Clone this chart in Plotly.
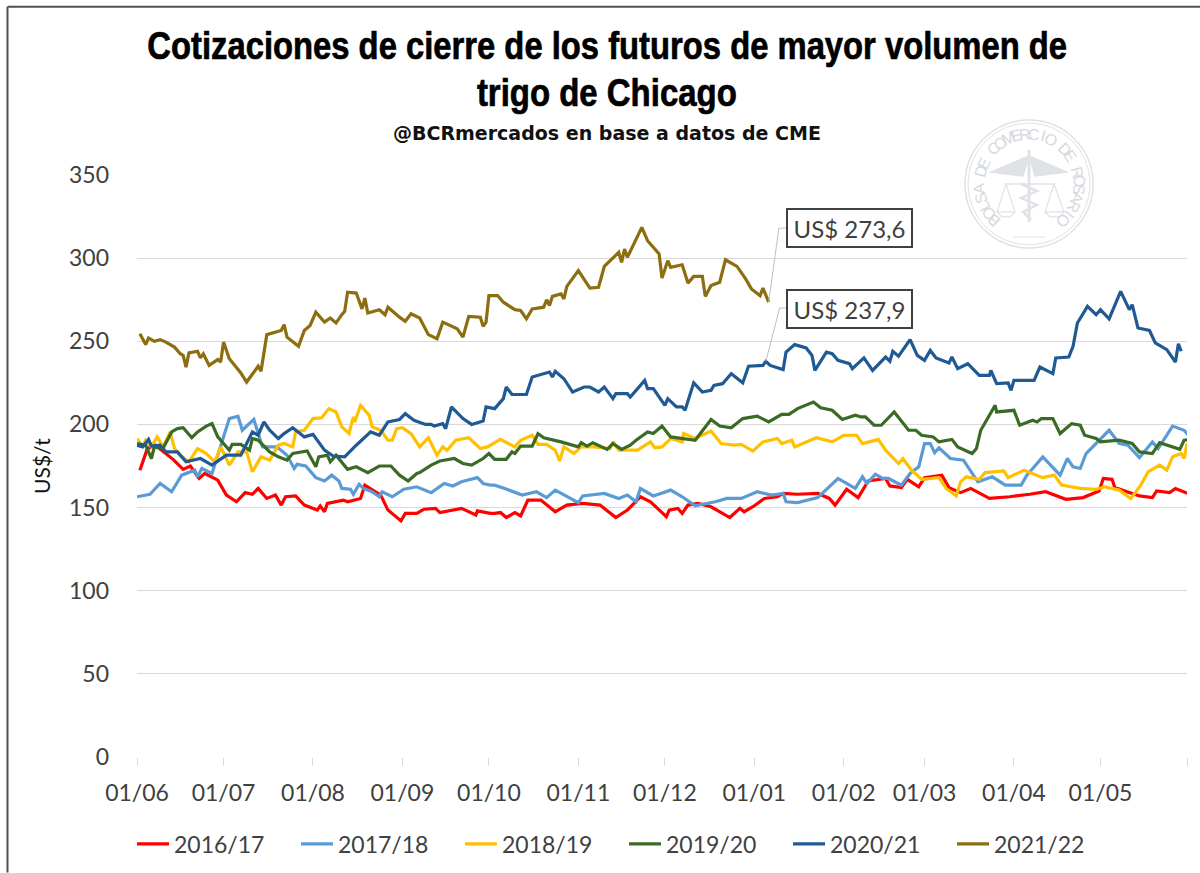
import math
from datetime import date, timedelta
import plotly.graph_objects as go

SEASONS = ["2016/17", "2017/18", "2018/19", "2019/20", "2020/21", "2021/22"]
COLORS = ["#FF0000", "#5B9BD5", "#FFC000", "#3A6B24", "#1F5A94", "#8C6D0F"]

days_1617 = [1,3.5,6,10,12.5,16,18.5,21.5,23.5,28,31,34.5,37.5,40,42,45,48,50,51.5,55,58,62.5,63.5,65,66,71.5,73,77.5,79,84.5,87,91.5,93,97,99.5,103.5,105,112.5,117.5,118,122.5,124,126,128,131,133,135.5,140,145,149,154.5,160.5,166,170,174.5,178,183.5,184.5,187.5,189,191,194.5,199,205.5,209,210.5,213.5,217.5,222,224,229,236,240,242,244,246,250,253.5,259.5,261,265,267,271,273,279,281.5,285.5,289,295.5,302.5,309.5,315,322,328,333.5,335,338,339,347.5,352,353.5,358,360,365]
vals_1617 = [172.5,185,188,182.5,179,173,175,167.5,170.5,166.5,157.5,153.5,159,158,161.5,155.5,157.5,151.5,156.5,157,151.5,148.5,151,147.5,152.5,154.5,153.5,155.5,163.5,157.5,148.5,142,146.5,146.5,149,149.5,147,149.5,145.5,148,146.5,146.5,147,144,147,145,154.5,154.5,147.5,151.5,152.5,151.5,144,148.5,156.5,153.5,144.5,148.5,149.5,146.5,151.5,152.5,150.5,144,149.5,147.5,150.5,155.5,156.5,158.5,158,158.5,155.5,151.5,156.5,161,156,166,167.5,163,162,167,162.5,168,169.5,162,159,161.5,155.5,156.5,158,159.5,155,156,160,167.5,167,162,157,156,160,159,161.5,158]

days_1718 = [0,4.5,8,12,15.5,20,21,22.5,26,29.5,32,35,36.5,40.5,43.5,48.5,52,54.5,55.5,58.5,62,65,67.5,70,71,74,75,77,78.5,81.5,84,85,88.5,92.5,97,102,106.5,109.5,112.5,118,120,122.5,124,127.5,133.5,138.5,142,145,153,154.5,159,162,167,170,173,174.5,179,185,189,193.5,200.5,204.5,209.5,215,220,224,225,229,236,241,243,249,251.5,253,256,258.5,260.5,265,268,271,273,275,276.5,278,282,286.5,291.5,296.5,301,306.5,308.5,314,320,322.5,324.5,327,329,337,340.5,343.5,347.5,352,354,359,363,365]
vals_1718 = [156.5,158,164.5,159.5,169.5,172.5,168.5,173.5,170.5,190.5,203.5,205,196.5,203,186.5,186.5,181.5,173.5,176,175,168,166,169.5,166,161.5,161,158,164,161.5,159.5,156.5,159.5,156.5,161,162.5,159,164.5,163,165.5,168,164.5,163.5,163.5,161.5,157.5,159.5,156,160.5,153,157,158,158.5,155.5,157.5,153.5,161.5,157,160.5,156.5,151,153.5,155.5,155.5,159.5,157.5,158.5,153.5,153,156,164.5,167.5,161.5,168.5,164.5,170,167.5,167.5,163.5,170.5,174.5,188.5,188.5,183,186,179.5,178.5,165.5,168.5,163.5,163.5,169.5,180.5,169.5,179.5,174.5,173.5,182.5,196.5,188.5,187.5,180,189.5,185.5,199,196.5,192.5]

days_1819 = [0,2,3,5,7,9,11.5,13,15,18,21,24,27,29,32,35,38,40,43,46,49,51,54,55,58,61,64,66.5,69,71,73.5,75,75.5,77.5,80.5,81.5,84.5,87,88.5,90,92,95,98,101,104,106,107.5,110.5,115,119,121.5,126,131,133,137,139,142,145,146.5,148,151.5,154,158.5,164,165,167,173.5,178,179.5,182,185,189,189.5,193.5,199,202.5,207,209.5,213.5,217,222,223.5,227,228,235.5,241,245,249.5,251.5,257,259.5,264,265.5,268.5,272,278,280.5,284,285.5,287.5,292,294,300.5,302,307.5,314,318,320.5,327,332.5,335.5,340.5,344.5,348,350.5,354.5,357,359,362,363,364,365]
vals_1819 = [191.5,186.5,190.5,186.5,192.5,186.5,195.5,185.5,181.5,177.5,185.5,182.5,177.5,186.5,175.5,183.5,183.5,171.5,180.5,178.5,187.5,188.5,186.5,195.5,196.5,203.5,204,209.5,207.5,198.5,194.5,204.5,201.5,211.5,205.5,198.5,196.5,190.5,190.5,197.5,198,194.5,186.5,192,181.5,186.5,184.5,190.5,192,185.5,186.5,191,186.5,190.5,193.5,188,188,184.5,178,186.5,182.5,186.5,186.5,185.5,189.5,184.5,184.5,189.5,186,186.5,191.5,189.5,194.5,191.5,196,188.5,187.5,188,184,189.5,191.5,188.5,190.5,186.5,192,189.5,193.5,193.5,188.5,191,184.5,176.5,179.5,172.5,167,168,161.5,157,165.5,168.5,167,171,172,168,172.5,168,169.5,163.5,161.5,161,162.5,160.5,155.5,163.5,171.5,175.5,172.5,180.5,182.5,179.5,188.5,184.5]

days_1920 = [0,3,5,6,9,12,14,16,19,21,24,26,28,32,33,36,39,40,42,46,49,52,54,59,62,63,66,67,69,73,76,80,84,88,91,94,97,98,102,105,110,113,116,120,122,124,128,130,131,133,137,139,141,147,153,154,156,158,163,165,168,171,173,177,179,182,185,193.5,199,202,206,210,215,219,223.5,226,229,234.5,237,241,244.5,249,251,252.5,255.5,258,262.5,267.5,270,272,276,278,282.5,284.5,289.5,291,292.5,297.5,298,304,306,310.5,312,313.5,317.5,320,324,327,328.5,332.5,334,340.5,345,347.5,352,354.5,361.5,363,365]
vals_1920 = [188.5,187.5,179.5,186.5,185.5,195.5,197.5,198,192,195.5,199,200.5,192.5,184.5,188,188,184.5,191.5,190.5,183.5,180.5,178.5,182.5,184,174.5,180.5,181.5,177.5,181.5,173,174.5,171,175,175,169.5,166,170.5,171,175.5,178,179.5,176.5,175.5,179.5,182.5,179,179,183.5,182.5,187,187,194.5,192,189.5,186.5,189,187,189,185,188.5,185,187.5,190.5,195.5,194.5,199,192.5,190.5,203,199,198,203.5,205,201.5,206,206,209.5,213.5,210,208.5,203,205.5,204.5,204.5,199.5,199.5,207.5,196.5,196.5,193.5,192.5,189.5,191,186.5,182.5,185.5,196.5,211.5,207.5,208.5,199.5,202.5,201.5,203.5,203.5,194.5,200.5,199.5,193.5,191.5,189.5,190.5,188.5,183.5,182.5,189,185,190.5,191]

days_2021 = [0,2,4,5,8,10,14,17,22,26,31,36,40,42,44,46,49,51,54,58,61,65,68,72,76,81,84,87,91,93,96,100,102,103,106,107,109,113,116,120,121,124,127,128,130,135,137,141,143,144,145,148,151,155,157,160,162,165,166,170,171,176,177,179,183,184,187,189,190,193,196,199,200,203,206,210,212,217,218,219.5,224,225,228,232,234,235,239,241,243,247,248,252,255,259.5,261,262,264,268,270.5,273,275,277,281.5,282.5,284.5,288,292,295.5,296,298,302,303,304,311,313,317.5,318.5,323,324.5,326,329.5,332.5,334,337,341,344,345,347,351,353,357,360,361,362]
vals_2021 = [187.5,186.5,191,187,187.5,183.5,183.5,177.5,179.5,175.5,181.5,181.5,195.5,193.5,201.5,196.5,191.5,194.5,198,192.5,194,184.5,181,180.5,187.5,195.5,193.5,201.5,203,206.5,202.5,200,200,199,200.5,197.5,210.5,203.5,200,202,210.5,209.5,215.5,222.5,218,218,228.5,230.5,231.5,228.5,232,227.5,219.5,222.5,222.5,219.5,222.5,215.5,218.5,218.5,216.5,226.5,221.5,221.5,211.5,215.5,210.5,210.5,208.5,225,219.5,220.5,223.5,224.5,230.5,225,235,235.5,237.9,235.5,233,243.5,248,246,241.5,232.5,243.5,242.5,238.5,236.5,233.5,240,232.5,240.5,238,244,241,251,241.5,238.5,244.5,240,237,240.5,233.5,236.5,229.5,229.5,232.5,224.5,225,220.5,226.5,226.5,234.5,230.5,240,240.5,247,261,271,266,269,263.5,280,269,272,258,256.5,249,245,237.5,248.5,244]

days_2122 = [1,3,4,6,8,10,13,15,16,17,18,21,22,23,25,28,29,30,32,36,38,42,43,45,50,51,52,56,58,60,62,65,67,69,71,72,73,76,78,79,80,84,86,87,91,93,95,98,101,104,106,111,113,115,119,120,121,122,125,127,131,133,135,137,141,142,143,144,147,148,149,153,157,160,162,167,168,169,170,175,177,181,182,184,185,189,191,193,196,197,199,202,204,208,211,213,216,217,219]
vals_2122 = [254.6,248,252,250,251,249.5,246.5,242.5,241.5,234.5,243,244,240,242.5,235.5,239,237.5,249.5,239.5,231,225.5,235,232,254,256.5,260,252.5,247,256.5,259.5,267.5,261.5,264,261,266,268,279.5,279,269.5,276,267,269,266,270.5,264.5,262,266.5,264,254,251.5,261.5,257.5,252.5,265,264.5,259,261.5,277.5,277.5,273.5,269,268.5,263.5,269.5,270.5,275,271.5,277,278.5,275.5,283,292.5,282,282.5,295,303.5,297.5,305.5,300.5,318.5,310.5,302.5,288,298.5,294.5,296,285,289,289,277,283.5,285.5,299,295,287.5,281.5,277.5,282,273.6]

DAYS = [days_1617, days_1718, days_1819, days_1920, days_2021, days_2122]
VALUES = [vals_1617, vals_1718, vals_1819, vals_1920, vals_2021, vals_2122]

Y_TICKS = [0, 50, 100, 150, 200, 250, 300, 350]
TICK_DATES = ["2021-06-01","2021-07-01","2021-08-01","2021-09-01","2021-10-01","2021-11-01","2021-12-01",
              "2022-01-01","2022-02-01","2022-03-01","2022-04-01","2022-05-01","2022-05-31"]
TICK_TEXT = ["01/06","01/07","01/08","01/09","01/10","01/11","01/12","01/01","01/02","01/03","01/04","01/05",""]

LEADER_DAYS = [[219, 222.5, 225.6], [218, 222.8, 225.6]]
LEADER_VALS = [[273.6, 318, 318], [237.9, 270, 270]]
CALLOUTS = ["US$ 273,6", "US$ 237,9"]

BASE = date(2021, 6, 1)
def to_date(d):
    whole = int(d)
    stamp = BASE + timedelta(days=whole)
    hours = int(round((d - whole) * 24))
    return f"{stamp.isoformat()} {hours:02d}:00"

W, H = 1200, 873
L, R, T, B = 137, 13, 175, 115.5
PW, PH = W - L - R, H - T - B
def px(x): return (x - L) / PW
def py(y): return 1 - (y - T) / PH

fig = go.Figure()
for name, color, d, v in zip(SEASONS, COLORS, DAYS, VALUES):
    fig.add_trace(go.Scatter(x=[to_date(i) for i in d], y=v, name=name, mode="lines",
                             line=dict(color=color, width=3.2)))
for d, v in zip(LEADER_DAYS, LEADER_VALS):
    fig.add_trace(go.Scatter(x=[to_date(i) for i in d], y=v, mode="lines", showlegend=False,
                             line=dict(color="#bfbfbf", width=1), hoverinfo="skip"))

FONT = "Lato, Carlito, sans-serif"
annotations = []
shapes = []

def note(x, y, text, **kw):
    annotations.append(dict(xref="paper", yref="paper", x=px(x), y=py(y), text=text,
                            xanchor="center", yanchor="middle", showarrow=False, **kw))

TITLE_FONT = dict(family="Liberation Sans", size=39, color="#000000")
note(607, 45, "<b>Cotizaciones de cierre de los futuros de mayor volumen de</b>", font=TITLE_FONT)
note(607, 92, "<b>trigo de Chicago</b>", font=TITLE_FONT)
note(607, 133, "<b>@BCRmercados en base a datos de CME</b>",
     font=dict(family="DejaVu Sans", size=19, color="#111111"))

for text, top in zip(CALLOUTS, (208, 289)):
    annotations.append(dict(xref="paper", yref="paper", x=px(786), y=py(top), xanchor="left", yanchor="top",
                            text=text, showarrow=False, width=123, height=36, align="center",
                            bgcolor="#ffffff", bordercolor="#404040", borderwidth=2, borderpad=0,
                            font=dict(family=FONT, size=24, color="#404040")))

# Watermark seal of the Bolsa de Comercio de Rosario
SEAL = "#dfe2e6"
CX, CY = 1029, 184
def circle(r, width):
    shapes.append(dict(type="circle", xref="paper", yref="paper", x0=px(CX - r), x1=px(CX + r),
                       y0=py(CY + r), y1=py(CY - r), line=dict(color=SEAL, width=width), layer="below"))
circle(64, 1.5)
circle(61, 1)
def path(points, width=1.5, fill=None):
    d = "M " + " L ".join(f"{px(CX + a)} {py(CY + b)}" for a, b in points)
    if fill:
        d += " Z"
    shapes.append(dict(type="path", xref="paper", yref="paper", path=d, layer="below",
                       line=dict(color=SEAL, width=width), fillcolor=fill))
path([(0, -28), (-38, -12), (-6, -8)], fill=SEAL)
path([(0, -28), (38, -12), (6, -8)], fill=SEAL)
path([(0, -34), (0, 38)], 3)
path([(-24, 0), (26, 0)], 1.5)
for apex, left, right in ((-23, -32, -14), (25, 16, 35)):
    path([(apex, 0), (right, 28), (left, 28), (apex, 0)], 1.2)
    path([(left, 28), (left + 5, 33), (right - 5, 33), (right, 28)], 1.2)
path([(-8, 0), (8, 7), (-8, 14), (8, 21), (-6, 28), (2, 36)], 2.5)
path([(-16, 53), (16, 53)], 1)
seal_text = "BOLSA DE COMERCIO DE ROSARIO"
for i, ch in enumerate(seal_text):
    ang = -136 + i * 273 / (len(seal_text) - 1)
    a = math.radians(ang)
    note(CX + 50 * math.sin(a), CY - 50 * math.cos(a), ch, textangle=ang,
         font=dict(family="Liberation Sans", size=16, color="#d6d9de"))

# Outer frame of the picture, top and left sides only
shapes.append(dict(type="line", xref="paper", yref="paper", x0=px(7.5), x1=px(1200), y0=py(6.5), y1=py(6.5),
                   line=dict(color="#505050", width=2)))
shapes.append(dict(type="line", xref="paper", yref="paper", x0=px(7.5), x1=px(7.5), y0=py(6.5), y1=py(873),
                   line=dict(color="#505050", width=2)))

fig.update_layout(
    width=W, height=H, margin=dict(l=L, r=R, t=T, b=B, autoexpand=False),
    paper_bgcolor="#ffffff", plot_bgcolor="#ffffff",
    font=dict(family=FONT, size=23, color="#404040"),
    annotations=annotations, shapes=shapes, hovermode=False,
    showlegend=True,
    legend=dict(orientation="h", x=px(132), y=py(823), xanchor="left", yanchor="top",
                entrywidth=117, entrywidthmode="pixels", itemwidth=32, traceorder="normal",
                font=dict(family=FONT, size=23, color="#404040"), bgcolor="rgba(0,0,0,0)"),
    xaxis=dict(type="date", range=["2021-06-01", "2022-05-31"], tickmode="array",
               tickvals=TICK_DATES, ticktext=TICK_TEXT, ticks="outside", ticklen=8, tickwidth=1,
               tickcolor="#d9d9d9", showgrid=False, showline=False, zeroline=False,
               ticklabelstandoff=7, tickfont=dict(family=FONT, size=23, color="#404040")),
    yaxis=dict(range=[0, 350], tickmode="array", tickvals=Y_TICKS, ticks="", showline=False,
               gridcolor="#d9d9d9", gridwidth=1.3, zeroline=False, ticklabelstandoff=27,
               tickfont=dict(family=FONT, size=23, color="#404040"),
               title=dict(text="US$/t", standoff=12, font=dict(family=FONT, size=21, color="#111111"))),
)

POST = """
document.body.style.margin='0';document.body.style.overflow='hidden';
function narrowTitle(){
  var targets={'Cotizaciones':920,'trigo de':260};
  document.querySelectorAll('text.annotation-text').forEach(function(t){
    for(var k in targets){
      if(t.textContent.indexOf(k)===0){
        t.style.transform='';
        var w=t.getBBox().width;
        t.style.transformBox='fill-box';
        t.style.transformOrigin='center';
        t.style.transform='scaleX('+(targets[k]/w)+')';
        t.style.stroke='#000';t.style.strokeWidth='0.7px';
      }
    }
  });
}
narrowTitle();setTimeout(narrowTitle,100);
"""
fig.write_html("out.html", post_script=POST, config=dict(displayModeBar=False))
